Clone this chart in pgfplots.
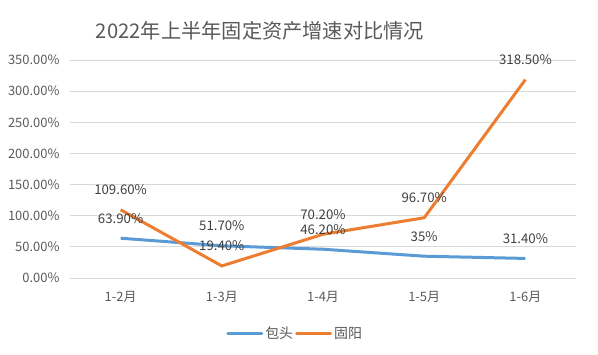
\documentclass[border=0pt]{standalone}
\usepackage{fontspec}
\setmainfont{Noto Sans CJK SC}
\usepackage{pgfplots}
\pgfplotsset{compat=1.18}
\definecolor{cblue}{HTML}{5B9BD5}
\definecolor{corange}{HTML}{ED7D31}
\definecolor{tgray}{HTML}{595959}
\definecolor{lgray}{HTML}{404040}
\definecolor{ggray}{HTML}{D9D9D9}
\begin{document}
\begin{tikzpicture}
\useasboundingbox (0,0) rectangle (598bp,355bp);
\node[text=tgray,font=\fontsize{20.3}{24}\selectfont] at (260bp,324bp) {2022年上半年固定资产增速对比情况};
\begin{axis}[
  at={(70bp,77bp)}, anchor=south west,
  scale only axis, width=506bp, height=218bp,
  xmin=-0.5, xmax=4.5, ymin=0, ymax=350,
  xtick={0,1,2,3,4},
  xticklabels={1-2月,1-3月,1-4月,1-5月,1-6月},
  ytick={0,50,...,350},
  yticklabel={\pgfmathprintnumber[fixed,fixed zerofill,precision=2]{\tick}\%},
  /pgf/number format/assume math mode=true,
  ymajorgrids, grid style={ggray,line width=0.8bp},
  axis line style={draw=none},
  major tick style={draw=none},
  tick label style={text=tgray,font=\fontsize{13}{15}\selectfont},
  xticklabel style={yshift=-10bp},
  yticklabel style={xshift=-7bp},
  legend style={draw=none, at={(0.445,-0.255)}, anchor=center, legend columns=2,
    font=\fontsize{14}{16}\selectfont, text=tgray,
    /tikz/every even column/.append style={column sep=0bp}},
  legend image code/.code={\draw[#1,line width=3bp,line cap=round] (0bp,0bp) -- (34bp,0bp);},
  nodes near coords,
  point meta=explicit symbolic,
  every node near coord/.append style={anchor=center, yshift=20bp, text=lgray, font=\fontsize{13.3}{15}\selectfont},
]
\addplot[cblue, line width=3bp, no markers] table[meta=lab] {
x y lab
0 63.9 63.90\%
1 51.7 51.70\%
2 46.2 46.20\%
3 35 35\%
4 31.4 31.40\%
};
\addlegendentry{包头}
\addplot[corange, line width=3bp, no markers] table[meta=lab] {
x y lab
0 109.6 109.60\%
1 19.4 19.40\%
2 70.2 70.20\%
3 96.7 96.70\%
4 318.5 318.50\%
};
\addlegendentry{固阳}
\end{axis}
\end{tikzpicture}
\end{document}
